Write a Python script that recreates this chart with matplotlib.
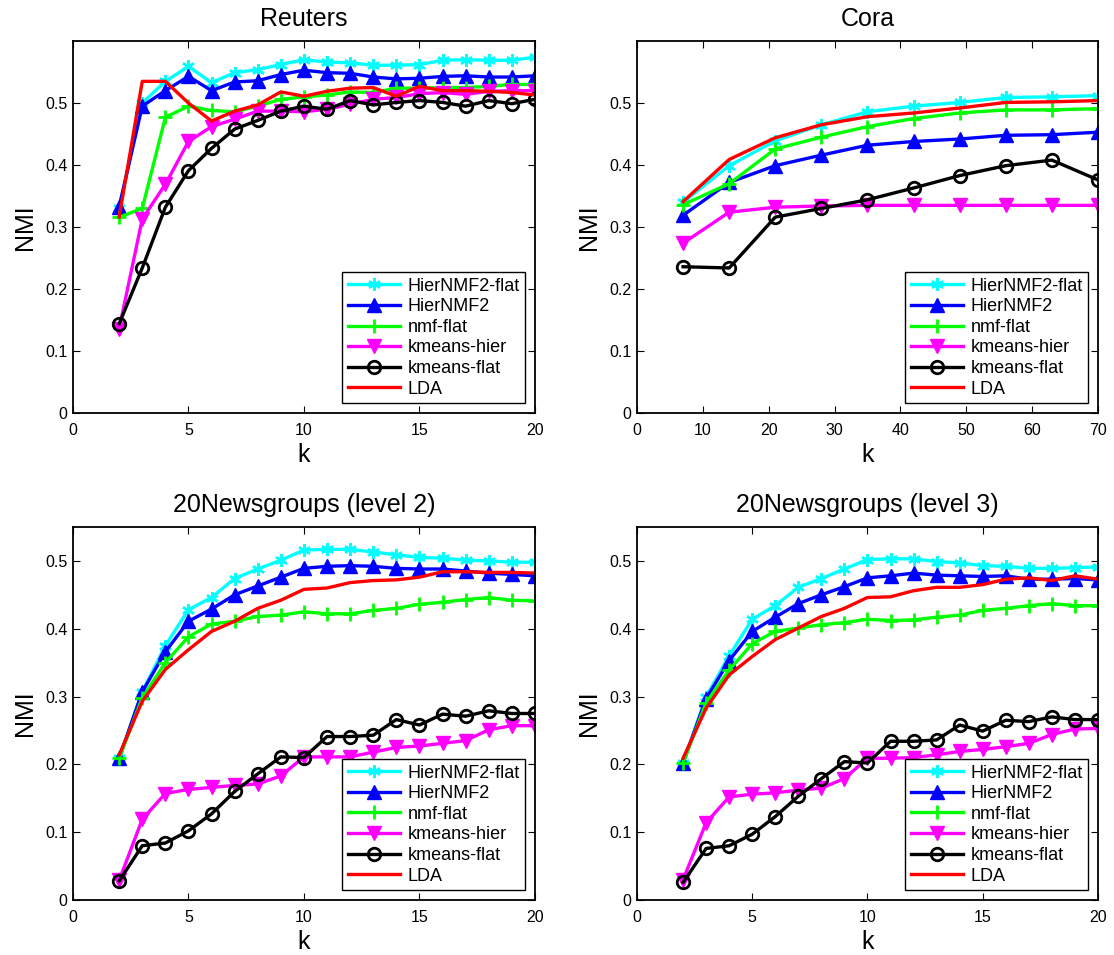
import matplotlib
matplotlib.use('Agg')
import matplotlib.pyplot as plt

plt.rcParams['font.family'] = ['Liberation Sans', 'DejaVu Sans']
plt.rcParams['axes.linewidth'] = 1.3

# NMI scores per method
labels = ['HierNMF2-flat', 'HierNMF2', 'nmf-flat', 'kmeans-hier', 'kmeans-flat', 'LDA']

k_small = list(range(2, 21))
k_cora = [7, 14, 21, 28, 35, 42, 49, 56, 63, 70]

reuters_hflat = [0.330, 0.500, 0.535, 0.559, 0.533, 0.549, 0.554, 0.562, 0.570, 0.566,
                 0.565, 0.561, 0.561, 0.562, 0.569, 0.570, 0.569, 0.569, 0.574]
reuters_hier = [0.333, 0.495, 0.520, 0.543, 0.520, 0.534, 0.536, 0.546, 0.553, 0.549,
                0.548, 0.542, 0.539, 0.540, 0.543, 0.544, 0.542, 0.542, 0.544]
reuters_nmf = [0.316, 0.330, 0.477, 0.495, 0.488, 0.486, 0.495, 0.506, 0.510, 0.513,
               0.518, 0.517, 0.524, 0.524, 0.525, 0.525, 0.527, 0.530, 0.530]
reuters_kmh = [0.136, 0.313, 0.369, 0.438, 0.462, 0.474, 0.487, 0.487, 0.486, 0.490,
               0.498, 0.506, 0.509, 0.515, 0.517, 0.514, 0.519, 0.520, 0.520]
reuters_kmf = [0.144, 0.234, 0.332, 0.391, 0.427, 0.458, 0.472, 0.487, 0.495, 0.490,
               0.504, 0.497, 0.501, 0.504, 0.501, 0.495, 0.504, 0.499, 0.506]
reuters_lda = [0.316, 0.535, 0.535, 0.500, 0.471, 0.487, 0.497, 0.518, 0.511, 0.519,
               0.524, 0.525, 0.511, 0.527, 0.520, 0.520, 0.519, 0.517, 0.513]

cora_hflat = [0.340, 0.399, 0.439, 0.465, 0.486, 0.495, 0.501, 0.509, 0.510, 0.512]
cora_hier = [0.319, 0.372, 0.399, 0.416, 0.432, 0.438, 0.442, 0.448, 0.449, 0.453]
cora_nmf = [0.336, 0.370, 0.426, 0.445, 0.462, 0.475, 0.484, 0.489, 0.489, 0.491]
cora_kmh = [0.274, 0.324, 0.332, 0.334, 0.335, 0.335, 0.335, 0.335, 0.335, 0.335]
cora_kmf = [0.236, 0.234, 0.316, 0.330, 0.344, 0.363, 0.383, 0.399, 0.408, 0.376]
cora_lda = [0.341, 0.409, 0.444, 0.465, 0.478, 0.484, 0.492, 0.501, 0.502, 0.504]

ng2_hflat = [0.209, 0.307, 0.375, 0.428, 0.446, 0.474, 0.488, 0.501, 0.516, 0.517,
             0.517, 0.513, 0.509, 0.505, 0.504, 0.501, 0.500, 0.498, 0.498]
ng2_hier = [0.209, 0.307, 0.366, 0.411, 0.429, 0.450, 0.463, 0.476, 0.489, 0.492,
            0.493, 0.492, 0.489, 0.488, 0.488, 0.485, 0.482, 0.480, 0.478]
ng2_nmf = [0.209, 0.298, 0.350, 0.388, 0.407, 0.411, 0.418, 0.420, 0.425, 0.422,
           0.422, 0.427, 0.430, 0.436, 0.439, 0.443, 0.446, 0.442, 0.441]
ng2_kmh = [0.029, 0.119, 0.157, 0.163, 0.166, 0.169, 0.171, 0.183, 0.211, 0.211,
           0.211, 0.218, 0.225, 0.227, 0.231, 0.235, 0.251, 0.257, 0.257]
ng2_kmf = [0.028, 0.080, 0.084, 0.102, 0.127, 0.160, 0.186, 0.211, 0.210, 0.241,
           0.241, 0.243, 0.266, 0.258, 0.274, 0.271, 0.279, 0.275, 0.275]
ng2_lda = [0.214, 0.293, 0.340, 0.369, 0.396, 0.411, 0.430, 0.442, 0.458, 0.460,
           0.468, 0.471, 0.472, 0.476, 0.484, 0.484, 0.483, 0.483, 0.482]

ng3_hflat = [0.202, 0.300, 0.360, 0.414, 0.434, 0.461, 0.474, 0.488, 0.502, 0.503,
             0.503, 0.499, 0.497, 0.493, 0.492, 0.489, 0.489, 0.490, 0.491]
ng3_hier = [0.202, 0.297, 0.353, 0.396, 0.417, 0.437, 0.450, 0.462, 0.475, 0.478,
            0.482, 0.479, 0.478, 0.477, 0.478, 0.473, 0.473, 0.474, 0.472]
ng3_nmf = [0.202, 0.291, 0.339, 0.378, 0.396, 0.401, 0.406, 0.409, 0.414, 0.412,
           0.413, 0.417, 0.420, 0.427, 0.430, 0.434, 0.437, 0.434, 0.434]
ng3_kmh = [0.030, 0.114, 0.152, 0.156, 0.158, 0.162, 0.165, 0.179, 0.209, 0.209,
           0.210, 0.214, 0.219, 0.222, 0.226, 0.231, 0.244, 0.252, 0.253]
ng3_kmf = [0.026, 0.076, 0.080, 0.097, 0.123, 0.153, 0.179, 0.204, 0.202, 0.234,
           0.234, 0.236, 0.258, 0.249, 0.265, 0.263, 0.270, 0.266, 0.266]
ng3_lda = [0.209, 0.283, 0.332, 0.359, 0.384, 0.401, 0.418, 0.430, 0.446, 0.447,
           0.456, 0.461, 0.461, 0.465, 0.473, 0.475, 0.471, 0.478, 0.473]

asterisk = (6, 2, 0)
styles = [
    dict(color='#00ffff', marker=asterisk, markersize=9, markeredgewidth=1.8),
    dict(color='#0000ff', marker='^', markersize=10, markerfacecolor='#0000ff'),
    dict(color='#00ff00', marker='+', markersize=10, markeredgewidth=2),
    dict(color='#ff00ff', marker='v', markersize=10, markerfacecolor='#ff00ff'),
    dict(color='black', marker='o', markersize=9, markerfacecolor='none', markeredgewidth=2),
    dict(color='#ff0000', marker='None'),
]

panels = [
    ('Reuters', k_small, [reuters_hflat, reuters_hier, reuters_nmf, reuters_kmh, reuters_kmf, reuters_lda],
     [0.0655, 0.5675, 0.4147, 0.3895], (0, 20), 0.6, [0, 5, 10, 15, 20]),
    ('Cora', k_cora, [cora_hflat, cora_hier, cora_nmf, cora_kmh, cora_kmf, cora_lda],
     [0.5718, 0.5675, 0.4138, 0.3895], (0, 70), 0.6, list(range(0, 71, 10))),
    ('20Newsgroups (level 2)', k_small, [ng2_hflat, ng2_hier, ng2_nmf, ng2_kmh, ng2_kmf, ng2_lda],
     [0.0655, 0.0576, 0.4147, 0.3906], (0, 20), 0.55, [0, 5, 10, 15, 20]),
    ('20Newsgroups (level 3)', k_small, [ng3_hflat, ng3_hier, ng3_nmf, ng3_kmh, ng3_kmf, ng3_lda],
     [0.5718, 0.0576, 0.4138, 0.3906], (0, 20), 0.55, [0, 5, 10, 15, 20]),
]

fig = plt.figure(figsize=(11.14, 9.55), dpi=100)

for title, ks, series, rect, xlim, ytop, xticks in panels:
    ax = fig.add_axes(rect)
    for lab, vals, st in zip(labels, series, styles):
        ax.plot(ks, vals, linewidth=2.4, label=lab, **st)
    ax.set_xlim(*xlim)
    ax.set_ylim(0, ytop)
    ax.set_xticks(xticks)
    ax.set_yticks([0, 0.1, 0.2, 0.3, 0.4, 0.5])
    ax.set_yticklabels(['0', '0.1', '0.2', '0.3', '0.4', '0.5'])
    ax.tick_params(axis='x', direction='in', top=True, labelsize=11.5, length=5, width=0.8, pad=7)
    ax.tick_params(axis='y', direction='in', right=True, labelsize=11.5, length=5, width=0.8, pad=4)
    ax.set_title(title, fontsize=18, pad=11)
    ax.set_xlabel('k', fontsize=18, labelpad=4)
    ax.set_ylabel('NMI', fontsize=18, labelpad=6)
    leg = ax.legend(loc='lower right', fontsize=13, handlelength=2.9, handletextpad=0.4,
                    labelspacing=0.2, borderpad=0.3, fancybox=False, framealpha=1,
                    borderaxespad=0.55)
    leg.get_frame().set_edgecolor('black')
    leg.get_frame().set_linewidth(1.0)

fig.savefig('out.png', dpi=100)
